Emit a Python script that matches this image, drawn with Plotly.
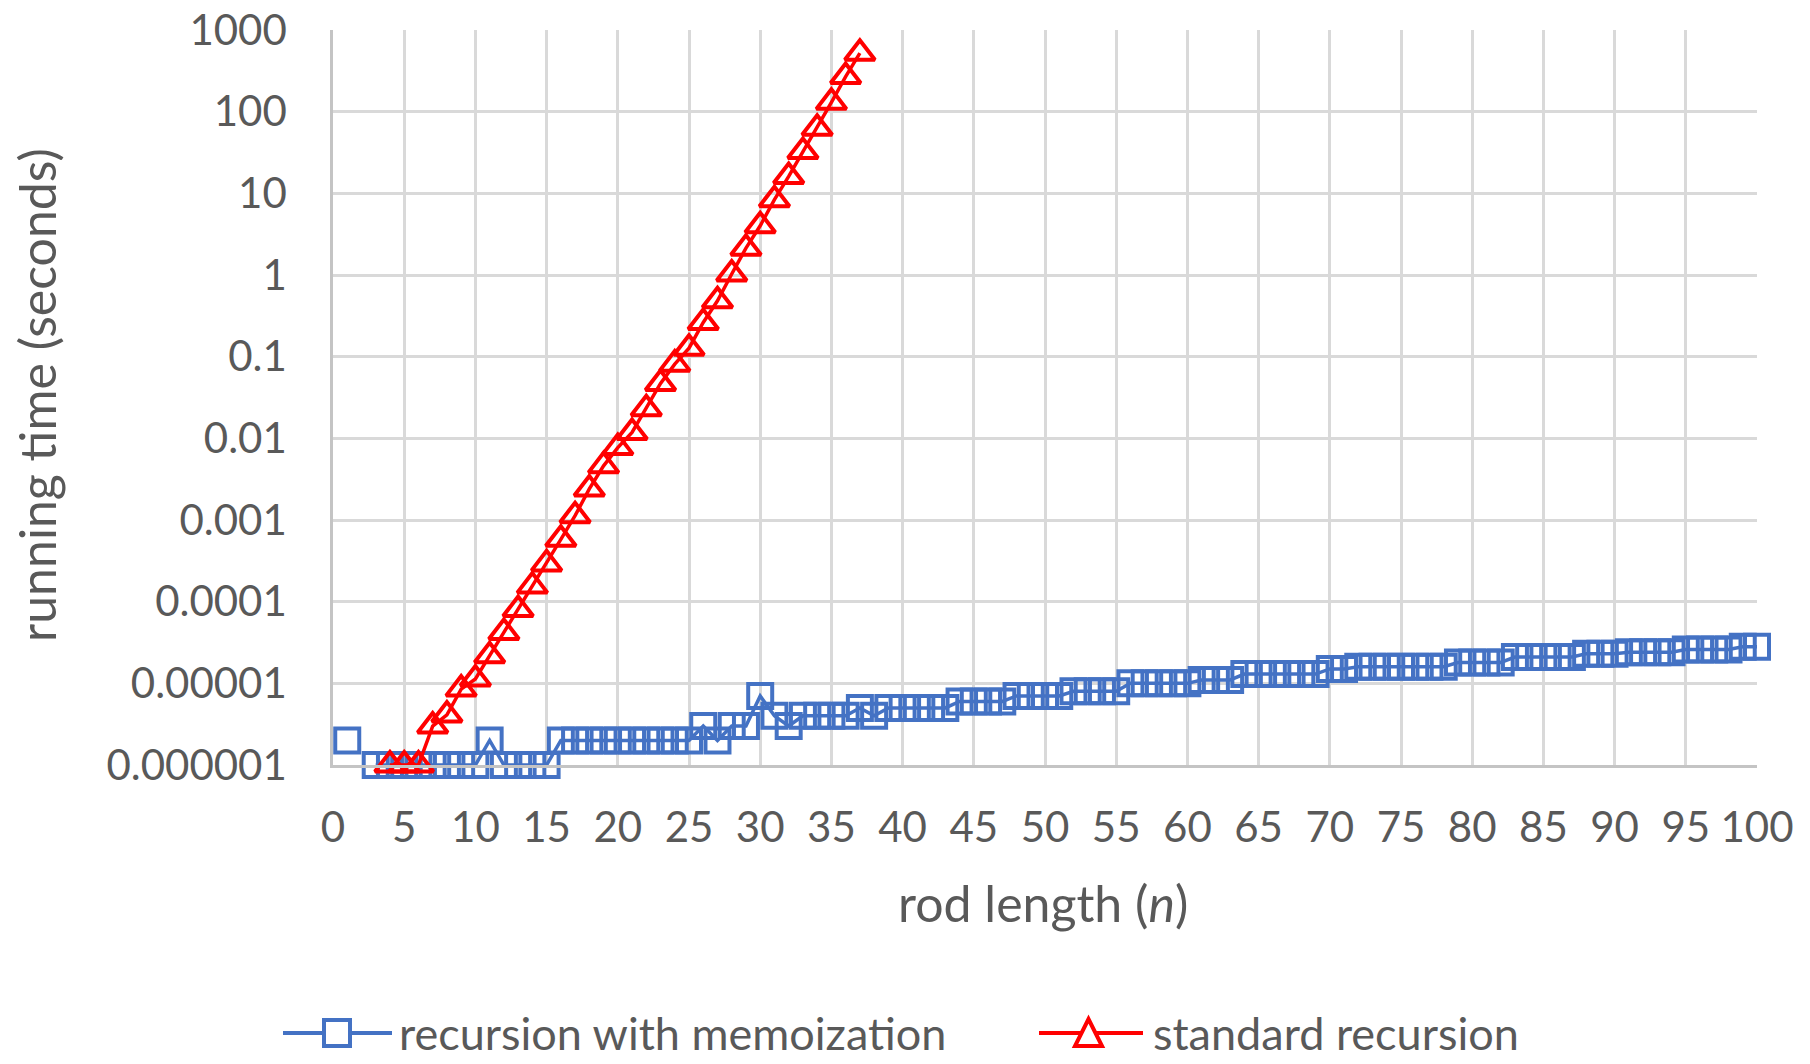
import plotly.graph_objects as go

# Rod-cutting timing results: rod length n vs running time in seconds
n_memo = list(range(1, 101))
t_memo = [
    2e-6, None, 1e-6, 1e-6, 1e-6, 1e-6, 1e-6, 1e-6, 1e-6, 1e-6,
    2e-6, 1e-6, 1e-6, 1e-6, 1e-6, 2e-6, 2e-6, 2e-6, 2e-6, 2e-6,
    2e-6, 2e-6, 2e-6, 2e-6, 2e-6, 3e-6, 2e-6, 3e-6, 3e-6, 7e-6,
    4e-6, 3e-6, 4e-6, 4e-6, 4e-6, 4e-6, 5e-6, 4e-6, 5e-6, 5e-6,
    5e-6, 5e-6, 5e-6, 6e-6, 6e-6, 6e-6, 6e-6, 7e-6, 7e-6, 7e-6,
    7e-6, 8e-6, 8e-6, 8e-6, 8e-6, 1.0e-5, 1.0e-5, 1.0e-5, 1.0e-5, 1.0e-5,
    1.1e-5, 1.1e-5, 1.1e-5, 1.3e-5, 1.3e-5, 1.3e-5, 1.3e-5, 1.3e-5, 1.3e-5, 1.5e-5,
    1.5e-5, 1.6e-5, 1.6e-5, 1.6e-5, 1.6e-5, 1.6e-5, 1.6e-5, 1.6e-5, 1.8e-5, 1.8e-5,
    1.8e-5, 1.8e-5, 2.1e-5, 2.1e-5, 2.1e-5, 2.1e-5, 2.1e-5, 2.3e-5, 2.3e-5, 2.3e-5,
    2.4e-5, 2.4e-5, 2.4e-5, 2.4e-5, 2.6e-5, 2.6e-5, 2.6e-5, 2.6e-5, 2.8e-5, 2.8e-5,
]

n_std = list(range(4, 38))
t_std = [
    1.0e-6, 1.0e-6, 1.0e-6, 3.0e-6, 4.1e-6, 8.5e-6, 1.13e-5, 2.18e-5, 4.2e-5, 8.0e-5,
    1.55e-4, 2.9e-4, 5.8e-4, 1.13e-3, 2.4e-3, 4.6e-3, 7.7e-3, 1.18e-2, 2.3e-2, 4.7e-2,
    8.1e-2, 0.127, 0.262, 0.484, 1.03, 2.13, 4.01, 8.36, 16.1, 32.5,
    62.7, 130, 269, 520,
]

y_tickvals = [1e-6, 1e-5, 1e-4, 1e-3, 1e-2, 1e-1, 1, 10, 100, 1000]
y_ticktext = ["0.000001", "0.00001", "0.0001", "0.001", "0.01", "0.1",
              "1", "10", "100", "1000"]

series_names = ["recursion with memoization", "standard recursion"]

BLUE = "#4472C4"
RED = "#FF0000"
GRID = "#d9d9d9"
AXIS = "#c4c4c4"
TEXT = "#595959"
FONT = "Lato"

W, H = 1810, 1064
PLOT_L, PLOT_R, PLOT_T, PLOT_B = 333, 1757, 30, 765


def px(x):
    """Figure pixel column -> paper x."""
    return (x - PLOT_L) / (PLOT_R - PLOT_L)


def py(y):
    """Figure pixel row -> paper y."""
    return (PLOT_B - y) / (PLOT_B - PLOT_T)


fig = go.Figure()

fig.add_trace(go.Scatter(
    x=n_memo, y=t_memo, name=series_names[0],
    mode="lines+markers",
    line=dict(color=BLUE, width=3.5),
    marker=dict(symbol="square-open", size=24, color=BLUE,
                line=dict(width=4, color=BLUE)),
    cliponaxis=False, showlegend=False,
))

fig.add_trace(go.Scatter(
    x=n_std, y=t_std, name=series_names[1],
    mode="lines+markers",
    line=dict(color=RED, width=3.5),
    marker=dict(symbol="triangle-up-open", size=26, color=RED,
                line=dict(width=4, color=RED)),
    cliponaxis=False, showlegend=False,
))

# Legend keys drawn below the plot: a line with the series marker on it
LEG_Y = 1033
shapes = []
annotations = []

# memoization key
shapes.append(dict(type="line", xref="paper", yref="paper",
                   x0=px(283), x1=px(392), y0=py(LEG_Y), y1=py(LEG_Y),
                   line=dict(color=BLUE, width=4)))
shapes.append(dict(type="rect", xref="paper", yref="paper",
                   x0=px(324), x1=px(350), y0=py(LEG_Y - 13), y1=py(LEG_Y + 13),
                   fillcolor="white", line=dict(color=BLUE, width=4)))
annotations.append(dict(text=series_names[0], xref="paper", yref="paper",
                        x=px(397), y=py(LEG_Y), xanchor="left", yanchor="middle",
                        showarrow=False,
                        font=dict(family=FONT, size=45, color=TEXT)))

# standard recursion key
shapes.append(dict(type="line", xref="paper", yref="paper",
                   x0=px(1039), x1=px(1143), y0=py(LEG_Y), y1=py(LEG_Y),
                   line=dict(color=RED, width=4)))
tri = "M {:.5f},{:.5f} L {:.5f},{:.5f} L {:.5f},{:.5f} Z".format(
    px(1075), py(LEG_Y + 13), px(1102), py(LEG_Y + 13), px(1088.5), py(LEG_Y - 14))
shapes.append(dict(type="path", xref="paper", yref="paper", path=tri,
                   fillcolor="white", line=dict(color=RED, width=4)))
annotations.append(dict(text=series_names[1], xref="paper", yref="paper",
                        x=px(1151), y=py(LEG_Y), xanchor="left", yanchor="middle",
                        showarrow=False,
                        font=dict(family=FONT, size=45, color=TEXT)))

# axis titles
annotations.append(dict(text="running time (seconds)", textangle=-90,
                        xref="paper", yref="paper", x=px(37), y=py(395),
                        xanchor="center", yanchor="middle", showarrow=False,
                        font=dict(family=FONT, size=50, color=TEXT)))
annotations.append(dict(text="rod length (<i>n</i>)",
                        xref="paper", yref="paper", x=px(1043), y=py(903),
                        xanchor="center", yanchor="middle", showarrow=False,
                        font=dict(family=FONT, size=50, color=TEXT)))

fig.update_layout(
    width=W, height=H,
    margin=dict(l=PLOT_L, r=W - PLOT_R, t=PLOT_T, b=H - PLOT_B, autoexpand=False),
    paper_bgcolor="white", plot_bgcolor="white",
    font=dict(family=FONT, color=TEXT, size=42),
    showlegend=False,
    xaxis=dict(
        range=[0, 100], tickmode="linear", tick0=0, dtick=5,
        showgrid=True, gridcolor=GRID, gridwidth=2.5,
        showline=True, linecolor=AXIS, linewidth=2.5,
        ticks="outside", ticklen=24, tickcolor="rgba(0,0,0,0)",
        tickfont=dict(family=FONT, size=42, color=TEXT),
        zeroline=False,
    ),
    yaxis=dict(
        type="log", range=[-6, 3],
        tickmode="array", tickvals=y_tickvals, ticktext=y_ticktext,
        showgrid=True, gridcolor=GRID, gridwidth=2.5,
        showline=True, linecolor=AXIS, linewidth=2.5,
        ticks="outside", ticklen=35, tickcolor="rgba(0,0,0,0)",
        tickfont=dict(family=FONT, size=42, color=TEXT),
        zeroline=False,
    ),
    shapes=shapes,
    annotations=annotations,
)

fig.write_html("out.html")
